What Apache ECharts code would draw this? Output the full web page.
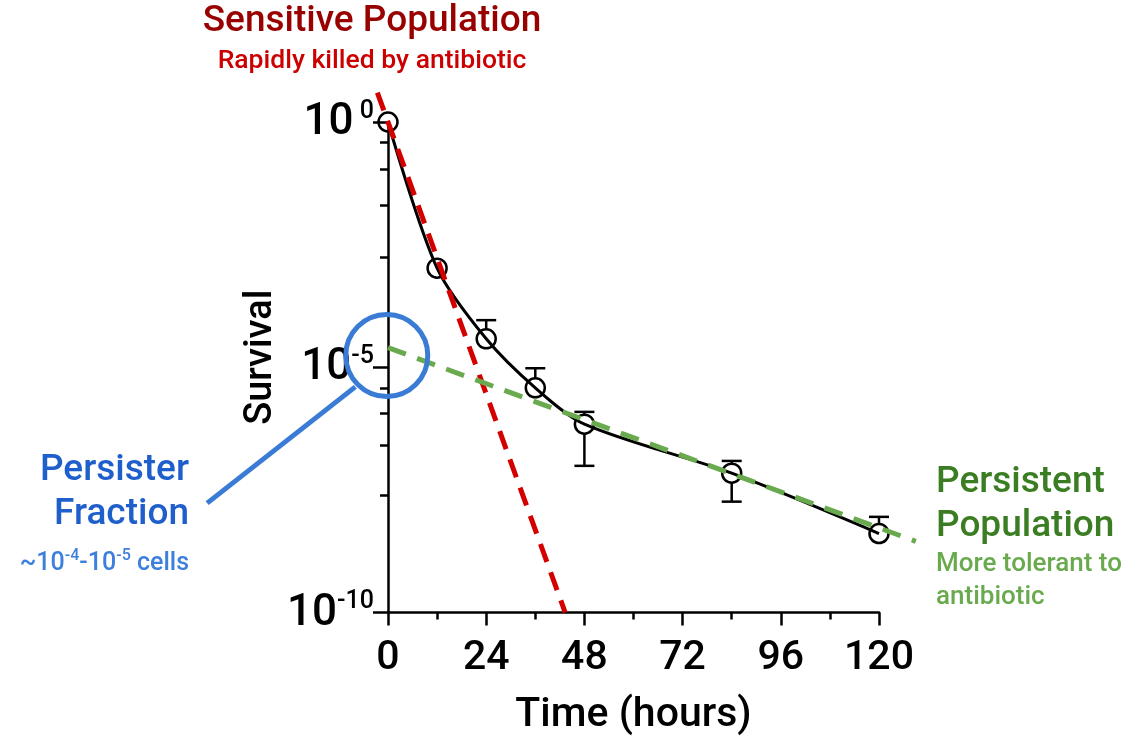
<!DOCTYPE html>
<html>
<head>
<meta charset="utf-8">
<script src="https://cdn.jsdelivr.net/npm/echarts@6/dist/echarts.min.js"></script>
<style>
html,body{margin:0;padding:0;background:#fff;}
#c{width:1130px;height:738px;}
</style>
</head>
<body>
<div id="c"></div>
<script>
// ---- data (survival shown as log10 exponent) ----
const timeHours = [0, 12, 24, 36, 48, 84, 120];
const survivalLog10 = [0, -2.98, -4.42, -5.42, -6.16, -7.16, -8.39];
const errUpperLog10 = [null, null, -4.04, -5.02, -5.91, -6.91, -8.05];
const errLowerLog10 = [null, null, null, null, -7.01, -7.74, null];
// fitted kill phases: [t1, log1, t2, log2]
const sensitiveFit = [-2.6, 0.6, 43.3, -10];
const persistentFit = [0, -4.6, 129, -8.55];
// persister fraction callout (hours, log10 survival)
const persisterCircle = [-0.3, -4.76];
const persisterLeader = [-8.0, -5.4, -44.2, -7.77];
// axis ticks
const xTicks = [0, 24, 48, 72, 96, 120];
const yMajorTicks = [-10, -5, 0];
const yMinorTicks = [-0.41, -0.96, -1.69, -2.75, -5.42, -5.93, -6.6, -7.6];

const FONT = 'Roboto';
const chart = echarts.init(document.getElementById('c'), null, {renderer: 'canvas'});

const curveData = timeHours.map((t, i) => [t, survivalLog10[i]]);
const errData = timeHours.map((t, i) => [t, survivalLog10[i]]);

function supLabel(v) {
  return '{b|10}{s|' + (v === 0 ? ' 0' : String(v)) + '}';
}

function segmentSeries(name, seg, color, width, dash, z) {
  return {
    name: name, type: 'custom', data: [seg], clip: false, z: z,
    encode: {x: [0, 2], y: [1, 3]},
    renderItem: function (params, api) {
      const p1 = api.coord([api.value(0), api.value(1)]);
      const p2 = api.coord([api.value(2), api.value(3)]);
      return {
        type: 'line',
        shape: {x1: p1[0], y1: p1[1], x2: p2[0], y2: p2[1]},
        style: {stroke: color, lineWidth: width, lineDash: dash, fill: null}
      };
    }
  };
}

const BLUE = '#3a7bd5';

const option = {
  backgroundColor: '#fff',
  animation: false,
  grid: {left: 388, right: 251, top: 122, bottom: 125.5, containLabel: false, outerBoundsMode: 'none'},
  xAxis: {
    type: 'value', min: 0, max: 120, interval: 24,
    axisLine: {show: true, onZero: false, lineStyle: {color: '#000', width: 2.5}},
    axisTick: {show: true, inside: false, length: 13, lineStyle: {color: '#000', width: 2.5}},
    minorTick: {show: true, splitNumber: 2, length: 7, lineStyle: {color: '#000', width: 2.5}},
    splitLine: {show: false},
    axisLabel: {
      margin: 26, fontFamily: FONT, fontSize: 41, fontWeight: 500, color: '#000',
      formatter: v => xTicks.includes(v) ? String(v) : ''
    },
    name: 'Time (hours)', nameLocation: 'middle', nameGap: 83,
    nameTextStyle: {fontFamily: FONT, fontSize: 41, fontWeight: 500, color: '#000'}
  },
  yAxis: [{
    type: 'value', min: -10, max: 0, interval: 5,
    axisLine: {show: true, onZero: false, lineStyle: {color: '#000', width: 2.5}},
    axisTick: {show: true, length: 15, lineStyle: {color: '#000', width: 2.5}},
    splitLine: {show: false},
    axisLabel: {
      margin: 14, color: '#000',
      verticalAlignMinLabel: 'middle', verticalAlignMaxLabel: 'middle',
      formatter: v => yMajorTicks.includes(v) ? supLabel(v) : '',
      rich: {
        b: {fontFamily: FONT, fontSize: 44, fontWeight: 500, color: '#000', lineHeight: 46, verticalAlign: 'bottom'},
        s: {fontFamily: FONT, fontSize: 25, fontWeight: 500, color: '#000', lineHeight: 25, verticalAlign: 'top'}
      }
    },
    name: 'Survival', nameLocation: 'middle', nameRotate: 90, nameGap: 108,
    nameTextStyle: {fontFamily: FONT, fontSize: 38, fontWeight: 500, color: '#000', padding: [0, 0, 0, 20]}
  }, {
    type: 'value', min: -10, max: 0, position: 'left', offset: 0,
    axisLine: {show: false, onZero: false},
    axisTick: {show: true, length: 8, customValues: yMinorTicks, lineStyle: {color: '#000', width: 2.5}},
    axisLabel: {show: false},
    splitLine: {show: false}
  }],
  series: [
    {
      name: 'survival', type: 'line', data: curveData, smooth: 0.3,
      symbol: 'circle', symbolSize: 19, showAllSymbol: true,
      lineStyle: {color: '#000', width: 3},
      itemStyle: {color: 'rgba(0,0,0,0)', borderColor: '#000', borderWidth: 2.5},
      z: 3, clip: false
    },
    {
      name: 'error', type: 'custom', data: errData, z: 3, clip: false,
      renderItem: function (params, api) {
        const t = api.value(0), m = api.value(1);
        const lo = errLowerLog10[params.dataIndex], hi = errUpperLog10[params.dataIndex];
        const children = [];
        const cap = 10;
        const style = {stroke: '#000', lineWidth: 2.5, fill: null};
        const pm = api.coord([t, m]);
        [hi, lo].forEach(v => {
          if (v === null || v === undefined) return;
          const p = api.coord([t, v]);
          const dir = p[1] < pm[1] ? 1 : -1;
          children.push({type: 'line', shape: {x1: p[0], y1: p[1], x2: p[0], y2: pm[1] - dir * 9.5}, style: style});
          children.push({type: 'line', shape: {x1: p[0] - cap, y1: p[1], x2: p[0] + cap, y2: p[1]}, style: style});
        });
        return {type: 'group', children: children};
      }
    },
    segmentSeries('sensitive', sensitiveFit, '#d40000', 5, [19, 11], 5),
    segmentSeries('persistent', persistentFit, '#6aaa4f', 5, [19, 12], 5),
    {
      name: 'persisterCircle', type: 'scatter', data: [persisterCircle], symbol: 'circle', symbolSize: 82, clip: false, z: 6,
      itemStyle: {color: 'rgba(0,0,0,0)', borderColor: BLUE, borderWidth: 5, opacity: 1}
    },
    segmentSeries('persisterLeader', persisterLeader, BLUE, 5, null, 6)
  ],
  graphic: [
    {type: 'text', style: {text: 'Sensitive Population', x: 372, y: 22, align: 'center', verticalAlign: 'middle', fontFamily: FONT, fontSize: 37, fontWeight: 500, fill: '#990000'}},
    {type: 'text', style: {text: 'Rapidly killed by antibiotic', x: 372, y: 61, align: 'center', verticalAlign: 'middle', fontFamily: FONT, fontSize: 26.5, fontWeight: 500, fill: '#cc0000'}},
    {type: 'text', style: {text: 'Persister', x: 189, y: 471, align: 'right', verticalAlign: 'middle', fontFamily: FONT, fontSize: 37, fontWeight: 500, fill: '#1f5fcc'}},
    {type: 'text', style: {text: 'Fraction', x: 189, y: 515, align: 'right', verticalAlign: 'middle', fontFamily: FONT, fontSize: 37, fontWeight: 500, fill: '#1f5fcc'}},
    {type: 'text', style: {
      text: '{n|~10}{s|-4}{n|-10}{s|-5}{n| cells}', x: 189, y: 562, align: 'right', verticalAlign: 'middle',
      rich: {
        n: {fontFamily: FONT, fontSize: 25, fontWeight: 500, fill: '#3d7fdc', lineHeight: 28, verticalAlign: 'bottom'},
        s: {fontFamily: FONT, fontSize: 16, fontWeight: 500, fill: '#3d7fdc', lineHeight: 16, verticalAlign: 'top'}
      }
    }},
    {type: 'text', style: {text: 'Persistent', x: 936, y: 483, align: 'left', verticalAlign: 'middle', fontFamily: FONT, fontSize: 37, fontWeight: 500, fill: '#3a7d22'}},
    {type: 'text', style: {text: 'Population', x: 936, y: 527, align: 'left', verticalAlign: 'middle', fontFamily: FONT, fontSize: 37, fontWeight: 500, fill: '#3a7d22'}},
    {type: 'text', style: {text: 'More tolerant to', x: 936, y: 564, align: 'left', verticalAlign: 'middle', fontFamily: FONT, fontSize: 26, fontWeight: 500, fill: '#6aaa4f'}},
    {type: 'text', style: {text: 'antibiotic', x: 936, y: 597, align: 'left', verticalAlign: 'middle', fontFamily: FONT, fontSize: 26, fontWeight: 500, fill: '#6aaa4f'}}
  ]
};
chart.setOption(option);
</script>
</body>
</html>
